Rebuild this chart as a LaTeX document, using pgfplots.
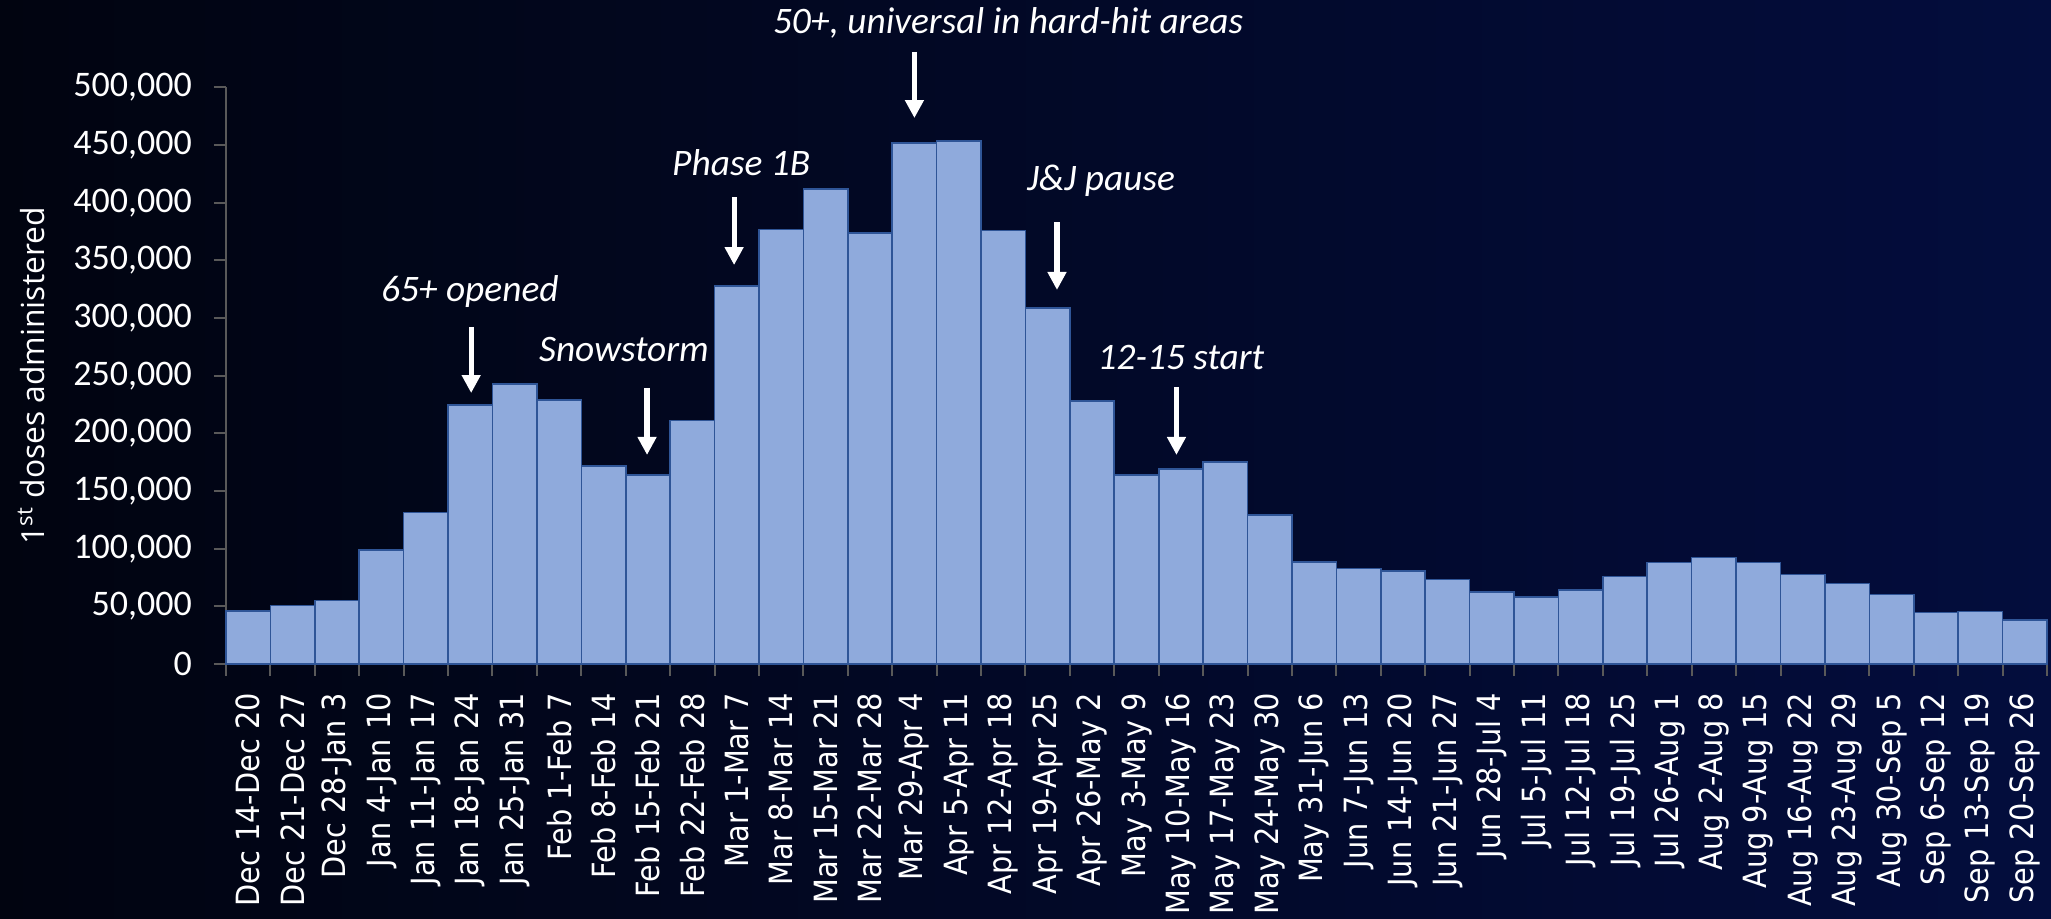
\documentclass[border=0pt]{standalone}
\usepackage{fontspec}
\setmainfont{Carlito}
\newfontfamily\dejavu[FakeStretch=0.9]{DejaVu Sans}
\newfontfamily\opensans{Open Sans}
\usepackage{pgfplots}
\pgfplotsset{compat=1.18}
\usetikzlibrary{arrows.meta}
\definecolor{bgleft}{RGB}{1,4,16}
\definecolor{bgright}{RGB}{3,13,61}
\definecolor{barfill}{HTML}{8FAADC}
\definecolor{baredge}{HTML}{2F5597}
\definecolor{axisgray}{HTML}{595959}

\begin{document}
\begin{tikzpicture}
\path[use as bounding box] (0,0) rectangle (1025.5pt,459.5pt);
\clip (0,0) rectangle (1025.5pt,459.5pt);
\fill[left color=bgleft, right color=bgright] (0,0) rectangle (1025.5pt,459.5pt);
\begin{axis}[
    at={(113pt,127.5pt)}, anchor=south west,
    scale only axis, width=910.5pt, height=288.25pt,
    xmin=-0.5, xmax=40.5, ymin=0, ymax=500000,
    axis x line=bottom, axis y line=left,
    axis line style={-, draw=axisgray, line width=1pt},
    tick align=outside,
    major tick length=6pt, minor tick length=6pt,
    ytick={0,50000,...,500000},
    scaled y ticks=false,
    /pgf/number format/fixed,
    /pgf/number format/1000 sep={,},
    /pgf/number format/assume math mode=true,
    yticklabel style={font=\fontsize{18}{20}\selectfont, text=white},
    yticklabel shift=7.5pt,
    ytick style={draw=axisgray, line width=1pt},
    xtick={0,...,40},
    xticklabels={Dec 14-Dec 20,Dec 21-Dec 27,Dec 28-Jan 3,Jan 4-Jan 10,Jan 11-Jan 17,
      Jan 18-Jan 24,Jan 25-Jan 31,Feb 1-Feb 7,Feb 8-Feb 14,Feb 15-Feb 21,Feb 22-Feb 28,
      Mar 1-Mar 7,Mar 8-Mar 14,Mar 15-Mar 21,Mar 22-Mar 28,Mar 29-Apr 4,Apr 5-Apr 11,
      Apr 12-Apr 18,Apr 19-Apr 25,Apr 26-May 2,May 3-May 9,May 10-May 16,May 17-May 23,
      May 24-May 30,May 31-Jun 6,Jun 7-Jun 13,Jun 14-Jun 20,Jun 21-Jun 27,Jun 28-Jul 4,
      Jul 5-Jul 11,Jul 12-Jul 18,Jul 19-Jul 25,Jul 26-Aug 1,Aug 2-Aug 8,Aug 9-Aug 15,
      Aug 16-Aug 22,Aug 23-Aug 29,Aug 30-Sep 5,Sep 6-Sep 12,Sep 13-Sep 19,Sep 20-Sep 26},
    xticklabel style={rotate=90, anchor=east, font=\dejavu\fontsize{16}{18}\selectfont, text=white},
    xticklabel shift=5pt,
    major x tick style={draw=none},
    minor xtick={-0.5,0.5,...,40.5},
    minor x tick style={draw=axisgray, line width=1pt},
    ylabel={1\textsuperscript{st} doses administered},
    ylabel style={at={(axis description cs:-0.1068,0.5)}, anchor=center,
      font=\opensans\fontsize{15.9}{18}\selectfont, text=white},
    clip=false,
]
\addplot[ybar, bar width=1, fill=barfill, draw=baredge, line width=0.8pt] coordinates {
  (0,46000) (1,50600) (2,55200) (3,98800) (4,131400) (5,224500) (6,242600)
  (7,228800) (8,171800) (9,163700) (10,211300) (11,327600) (12,377000) (13,412200)
  (14,374000) (15,451700) (16,453800) (17,375800) (18,308500) (19,228200) (20,163700)
  (21,169200) (22,175300) (23,129100) (24,88700) (25,82800) (26,80800) (27,73300)
  (28,62200) (29,58100) (30,64000) (31,75900) (32,88100) (33,92400) (34,88100)
  (35,77600) (36,69800) (37,60200) (38,44800) (39,45600) (40,38400)
};
% annotations
\tikzset{ann/.style={font=\itshape\fontsize{18.7}{20}\selectfont, text=white, anchor=base},
         arr/.style={white, line width=2.6pt, -{Triangle[width=9pt,length=9pt]}}}
\node[ann] at (axis cs:17.11,547000) {50+, universal in hard-hit areas};
\draw[arr] (axis cs:15,530800) -- (axis cs:15,473500);
\node[ann] at (axis cs:4.99,314000) {65+ opened};
\draw[arr] (axis cs:5.02,292300) -- (axis cs:5.02,235000);
\node[ann] at (axis cs:8.46,262000) {Snowstorm};
\draw[arr] (axis cs:8.98,239400) -- (axis cs:8.98,181300);
\node[ann] at (axis cs:11.1,424000) {Phase 1B};
\draw[arr] (axis cs:10.94,405000) -- (axis cs:10.94,346000);
\node[ann] at (axis cs:19.2,411000) {J\&J pause};
\draw[arr] (axis cs:18.21,383300) -- (axis cs:18.21,324400);
\node[ann] at (axis cs:21.0,255000) {12-15 start};
\draw[arr] (axis cs:20.9,240000) -- (axis cs:20.9,181300);
\end{axis}
\end{tikzpicture}
\end{document}
